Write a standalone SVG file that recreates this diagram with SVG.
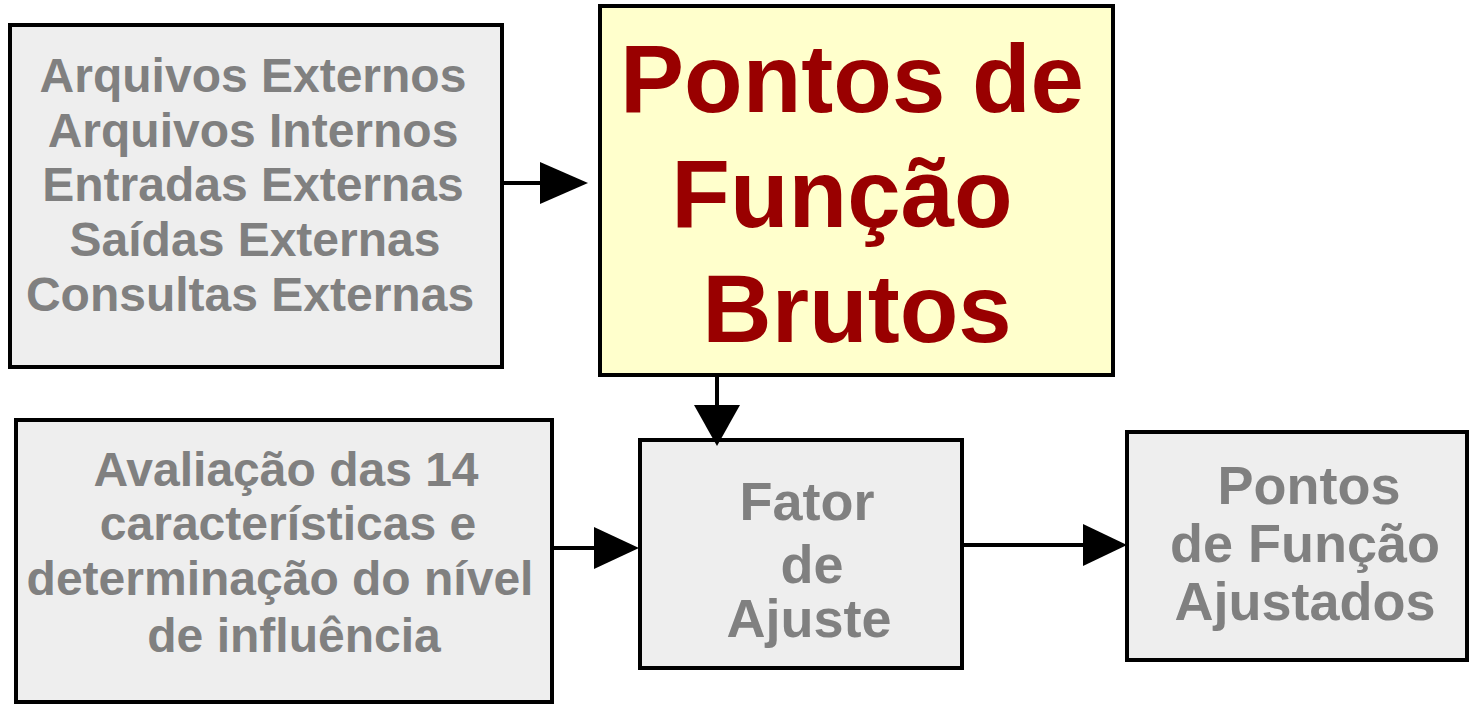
<svg xmlns="http://www.w3.org/2000/svg" width="1470" height="707" viewBox="0 0 1470 707">
<defs>
<style>
.box{fill:#eeeeee;stroke:#000;stroke-width:4}
.main{fill:#ffffcc;stroke:#000;stroke-width:4}
.t{font-family:"Liberation Sans",Arial,sans-serif;font-weight:bold;font-size:48px;fill:#808080;text-anchor:middle}
.t2{font-family:"Liberation Sans",Arial,sans-serif;font-weight:bold;font-size:54px;fill:#808080;text-anchor:middle}
.big{font-family:"Liberation Sans",Arial,sans-serif;font-weight:bold;font-size:96px;fill:#990000;text-anchor:middle}
.ln{stroke:#000;stroke-width:4;fill:none}
.hd{fill:#000}
</style>
</defs>
<rect width="1470" height="707" fill="#fff"/>
<g id="entradas">
<rect class="box" x="10" y="25" width="492" height="342"/>
<text class="t" x="253" y="92">Arquivos Externos</text>
<text class="t" x="253" y="147">Arquivos Internos</text>
<text class="t" x="253" y="201">Entradas Externas</text>
<text class="t" x="255" y="256">Saídas Externas</text>
<text class="t" x="250" y="311">Consultas Externas</text>
</g>
<g id="pf-brutos">
<rect class="main" x="600" y="6" width="513" height="369"/>
<text class="big" x="852" y="112">Pontos de</text>
<text class="big" x="842" y="227">Função</text>
<text class="big" x="857" y="342">Brutos</text>
</g>
<g id="caracteristicas">
<rect class="box" x="16" y="420" width="536" height="282"/>
<text class="t" x="286" y="486">Avaliação das 14</text>
<text class="t" x="288" y="540">características e</text>
<text class="t" x="280" y="595">determinação do nível</text>
<text class="t" x="294" y="652">de influência</text>
</g>
<g id="fator">
<rect class="box" x="640" y="440" width="322" height="228"/>
<text class="t2" x="807" y="520">Fator</text>
<text class="t2" x="812" y="583">de</text>
<text class="t2" x="809" y="637">Ajuste</text>
</g>
<g id="pf-ajustados">
<rect class="box" x="1127" y="432" width="340" height="228"/>
<text class="t2" x="1309" y="504">Pontos</text>
<text class="t2" x="1305" y="562">de Função</text>
<text class="t2" x="1305" y="620">Ajustados</text>
</g>
<g id="connectors">
<line class="ln" x1="502" y1="183" x2="542" y2="183"/>
<polygon class="hd" points="540,162 588,183 540,204"/>
<line class="ln" x1="717" y1="375" x2="717" y2="408"/>
<polygon class="hd" points="694,405 740,405 717,446"/>
<line class="ln" x1="552" y1="548" x2="596" y2="548"/>
<polygon class="hd" points="594,527 639,548 594,569"/>
<line class="ln" x1="962" y1="545" x2="1085" y2="545"/>
<polygon class="hd" points="1083,524 1127,545 1083,566"/>
</g>
</svg>
